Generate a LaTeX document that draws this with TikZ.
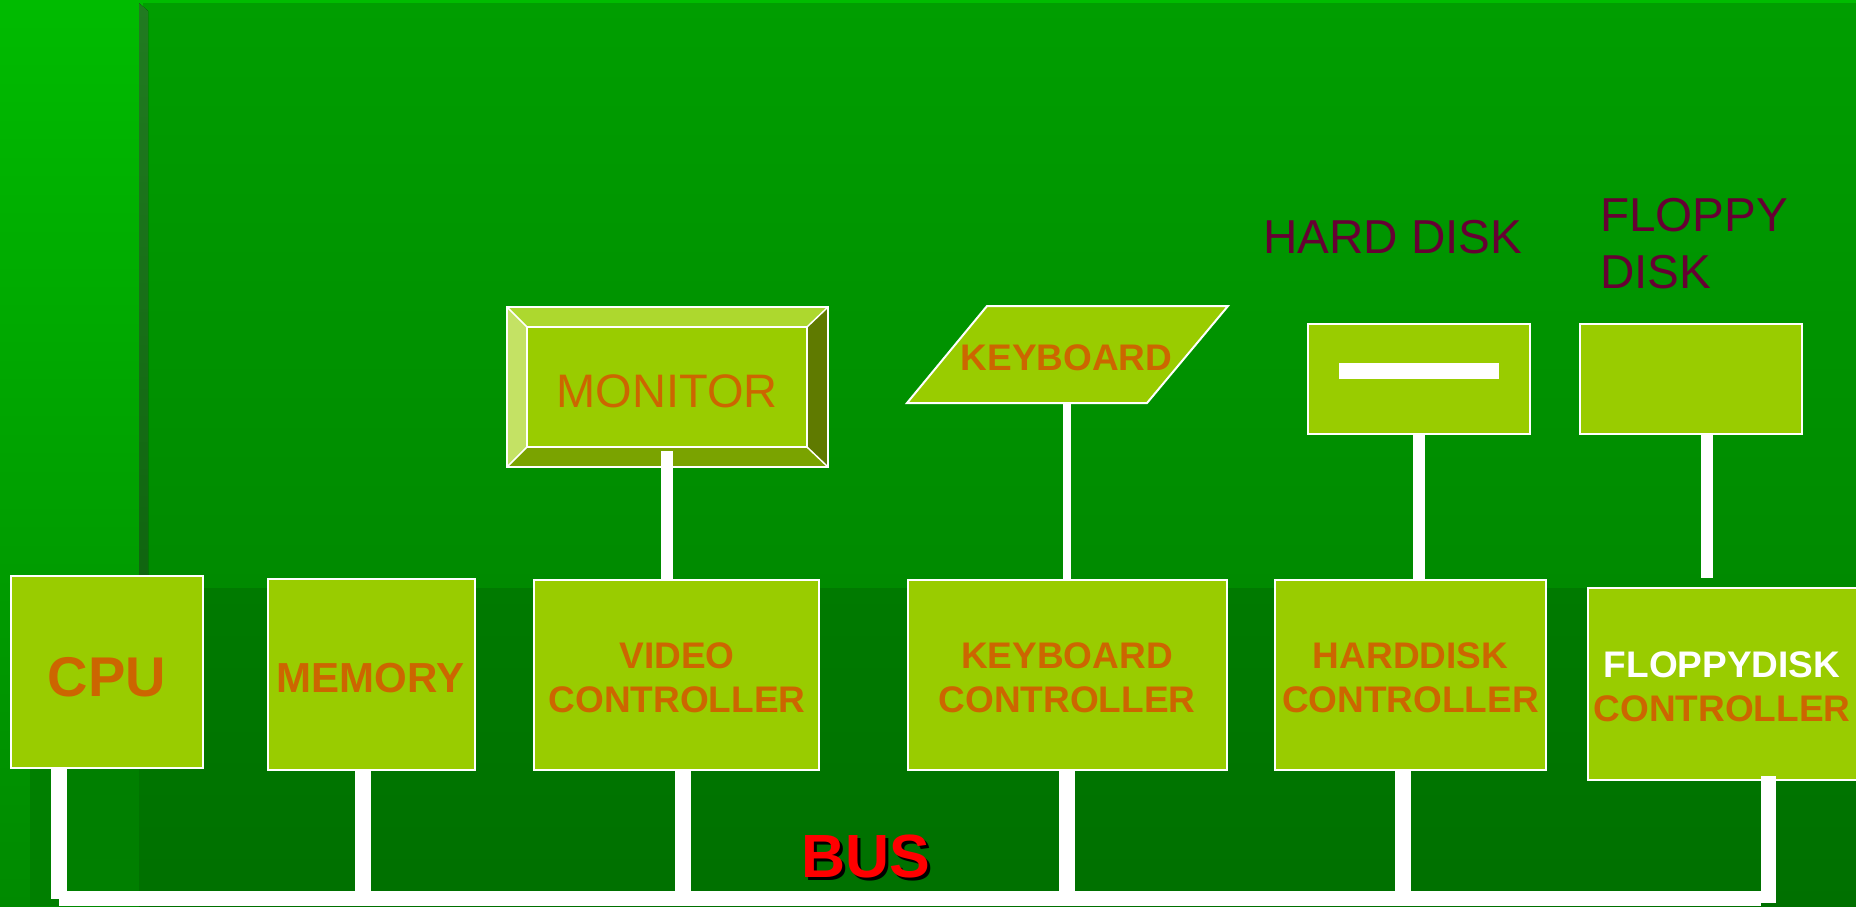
\documentclass[tikz,border=0pt]{standalone}
\usepackage{fontspec}
\setmainfont{Liberation Sans}
\usetikzlibrary{calc}
\definecolor{boxfill}{HTML}{99CC00}
\definecolor{txtorange}{HTML}{CC6600}
\definecolor{labmaroon}{HTML}{660033}
\definecolor{lstripTop}{HTML}{00BB00}
\definecolor{lstripBot}{HTML}{008A00}
\definecolor{mainTop}{HTML}{009E00}
\definecolor{mainMid}{HTML}{008A00}
\definecolor{stripeTop}{HTML}{217B21}
\definecolor{stripeBot}{HTML}{0F650F}
\definecolor{bandLeft}{HTML}{007F00}
\definecolor{bandTop}{HTML}{007A00}
\definecolor{bandBot}{HTML}{007000}
\definecolor{bevTop}{HTML}{ADD82E}
\definecolor{bevLeft}{HTML}{C4E264}
\definecolor{bevRight}{HTML}{5F7A00}
\definecolor{bevBot}{HTML}{7AA300}
\tikzset{
  unitbox/.style={draw=white, line width=2pt, fill=boxfill, inner sep=0pt, outer sep=0pt},
  btext/.style={inner sep=0pt, outer sep=0pt, text=txtorange, align=center,
    font=\bfseries\fontsize{37}{44}\selectfont},
  wire/.style={draw=white, line width=#1},
  wire/.default=16pt,
  disklabel/.style={inner sep=0pt, outer sep=0pt, text=labmaroon, font=\fontsize{47.6}{57}\selectfont},
}
\begin{document}
\begin{tikzpicture}[x=1pt,y=-1pt]
\useasboundingbox (0,0) rectangle (1856,906);
% background
\fill[top color=lstripTop, bottom color=lstripBot] (0,0) rectangle (1856,906);
\fill[top color=mainTop, bottom color=mainMid] (143,3) rectangle (1856,588);
\fill[top color=stripeTop, bottom color=stripeBot] (139,3) -- (148,11) -- (148,588) -- (139,588) -- cycle;
\fill[bandLeft] (30,588) rectangle (139,906);
\fill[top color=bandTop, bottom color=bandBot] (139,588) rectangle (1856,906);

% monitor bevel
\coordinate (o1) at (507,307); \coordinate (o2) at (828,307);
\coordinate (o3) at (828,467); \coordinate (o4) at (507,467);
\coordinate (i1) at (527,327); \coordinate (i2) at (807,327);
\coordinate (i3) at (807,447); \coordinate (i4) at (527,447);
\fill[bevTop] (o1) -- (o2) -- (i2) -- (i1) -- cycle;
\fill[bevRight] (o2) -- (o3) -- (i3) -- (i2) -- cycle;
\fill[bevBot] (o3) -- (o4) -- (i4) -- (i3) -- cycle;
\fill[bevLeft] (o4) -- (o1) -- (i1) -- (i4) -- cycle;
\draw[white, line width=2pt] (o1) -- (o2) -- (o3) -- (o4) -- cycle;
\draw[white, line width=1.5pt] (o1) -- (i1) (o2) -- (i2) (o3) -- (i3) (o4) -- (i4);
\node[unitbox, minimum width=280, minimum height=120] (mon) at (667,387) {};
\node[btext, anchor=base, font=\fontsize{47}{56}\selectfont] (montext) at (667,407) {MONITOR};

% keyboard parallelogram
\fill[boxfill] (907,403) -- (1147,403) -- (1228,306) -- (987,306) -- cycle;
\draw[white, line width=2pt] (907,403) -- (1147,403) -- (1228,306) -- (987,306) -- cycle;
\node[inner sep=0pt, outer sep=0pt, minimum height=97, minimum width=240] (kbd) at (1067,354.5) {};
\node[btext, anchor=base] (kbdtext) at (1066.5,370) {KEYBOARD};

% drives
\node[unitbox, minimum width=222, minimum height=110] (hd) at (1419,379) {};
\fill[white] ($(hd.center)+(-80,-16)$) rectangle ($(hd.center)+(80,0)$);
\node[unitbox, minimum width=222, minimum height=110] (fd) at (1691,379) {};
\node[disklabel, anchor=base west] (hdlabel) at (1263,253) {HARD DISK};
\node[disklabel, anchor=west, align=left] (fdlabel) at (1600,244) {FLOPPY\\DISK};

% units on the bus
\node[unitbox, minimum width=192, minimum height=192] (cpu) at (107,672) {};
\node[btext, anchor=base, font=\bfseries\fontsize{56}{66}\selectfont] (cputext) at (107,696) {CPU};
\node[unitbox, minimum width=207, minimum height=191] (mem) at (371.5,674.5) {};
\node[btext, anchor=base, font=\bfseries\fontsize{42}{50}\selectfont] (memtext) at (370.5,692) {MEMORY};
\node[unitbox, minimum width=285, minimum height=190] (vid) at (676.5,675) {};
\node[btext, anchor=south] (vidtext) at (677,713) {VIDEO\\CONTROLLER};
\node[unitbox, minimum width=319, minimum height=190] (kbc) at (1067.5,675) {};
\node[btext, anchor=south] (kbctext) at (1067,713) {KEYBOARD\\CONTROLLER};
\node[unitbox, minimum width=271, minimum height=190] (hdc) at (1410.5,675) {};
\node[btext, anchor=south] (hdctext) at (1410.5,713) {HARDDISK\\CONTROLLER};
\node[unitbox, minimum width=276, minimum height=192] (fdc) at (1726,684) {};
\node[btext, anchor=south] (fdctext) at (1722,722) {\textcolor{white}{FLOPPYDISK}\\CONTROLLER};

% device to controller connectors
\draw[wire=12pt] ($(mon.south)+(0,4)$) -- (mon.south |- vid.north);
\draw[wire=8pt] (kbd.south) -- (kbd.south |- kbc.north);
\draw[wire=12pt] (hd.south) -- (hd.south |- hdc.north);
\coordinate (fdtop) at (1707,578);
\draw[wire=12pt] (fd.south -| fdtop) -- (fdtop);

% bus
\coordinate (busW) at (59,898.5);
\coordinate (busE) at (1761,898.5);
\draw[white, line width=15pt] (busW) -- (busE);
\coordinate (bcpu) at (59,899);
\coordinate (bmem) at (363,898);
\coordinate (bvid) at (683,898);
\coordinate (bkbc) at (1067,898);
\coordinate (bhdc) at (1403,898);
\coordinate (bfdc) at (1768.5,903);
\draw[wire] (cpu.south -| bcpu) -- (bcpu);
\draw[wire] (mem.south -| bmem) -- (bmem);
\draw[wire] (vid.south -| bvid) -- (bvid);
\draw[wire] (kbc.south -| bkbc) -- (bkbc);
\draw[wire] (hdc.south -| bhdc) -- (bhdc);
\draw[wire=15pt] ($(fdc.south -| bfdc)+(0,-4)$) -- (bfdc);

% bus label
\node[inner sep=0pt, anchor=base, text=red, font=\bfseries\fontsize{61}{70}\selectfont] (buslabel) at (865.5,877)
  {\rlap{\hspace{3pt}\raisebox{-3pt}{\textcolor{black}{BUS}}}BUS};
\end{tikzpicture}
\end{document}
